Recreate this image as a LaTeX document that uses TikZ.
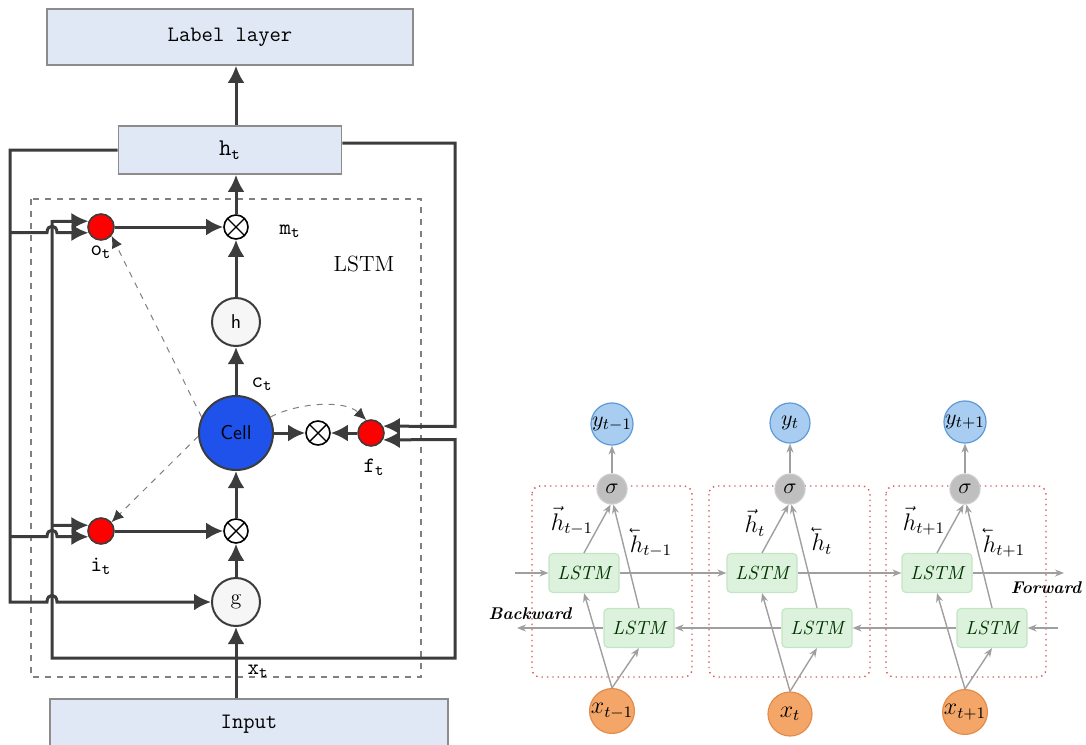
\documentclass[tikz,border=0pt]{standalone}
\usepackage{graphicx}
\usepackage{tikz}
\usetikzlibrary{arrows.meta, positioning}
\definecolor{layerfill}{HTML}{DFE8F4}
\definecolor{layerdraw}{HTML}{8C8C8C}
\definecolor{wiregray}{HTML}{3C3C3C}
\definecolor{cellblue}{HTML}{1F52EA}
\definecolor{yfill}{HTML}{A8CDF0}
\definecolor{ydraw}{HTML}{5D9AD6}
\definecolor{xfill}{HTML}{F3A668}
\definecolor{xdraw}{HTML}{E38C4C}
\definecolor{lstmfill}{HTML}{DDF2DD}
\definecolor{lstmdraw}{HTML}{C5E4C5}
\definecolor{framered}{HTML}{D25A5A}
\newcommand{\fwh}[1]{\vec{h}_{#1}}
\newcommand{\bwh}[1]{\reflectbox{$\vec{\reflectbox{$h$}}$}_{#1}}

\begin{document}
\begin{tikzpicture}[x=0.5pt, y=-0.5pt,
   layer/.style={draw=layerdraw, fill=layerfill, line width=0.8pt, inner sep=0pt, font=\fontsize{11}{13}\ttfamily},
   wire/.style={draw=wiregray, line width=1.5pt},
   arr/.style={wire, -{Latex[length=8.5pt,width=8.5pt]}},
   peep/.style={draw=gray, dashed, line width=0.5pt, -{Latex[length=6pt,width=5.5pt,color=wiregray]}},
   gate/.style={circle, draw=wiregray, fill=red, line width=0.8pt, minimum size=13pt, inner sep=0pt},
   func/.style={circle, draw=wiregray, fill=gray!7, line width=1pt, minimum size=24pt, inner sep=0pt},
   mult/.style={circle, draw=black, fill=white, line width=0.8pt, minimum size=12pt, inner sep=0pt,
      path picture={\draw[line width=0.7pt] (path picture bounding box.north west) -- (path picture bounding box.south east)
         (path picture bounding box.north east) -- (path picture bounding box.south west);}},
   tag/.style={font=\fontsize{11}{13}\selectfont},
   ycirc/.style={circle, fill=yfill, draw=ydraw, line width=0.6pt, minimum size=20pt, inner sep=0pt, font=\fontsize{11}{13}\selectfont},
   sig/.style={circle, fill=gray!50, draw=gray!40, line width=0.6pt, minimum size=15pt, inner sep=0pt, font=\fontsize{11}{13}\selectfont},
   xcirc/.style={circle, fill=xfill, draw=xdraw, line width=0.6pt, minimum size=22pt, inner sep=0pt, font=\fontsize{12}{14}\selectfont},
   lstm/.style={rounded corners=2pt, fill=lstmfill, draw=lstmdraw, line width=0.6pt, minimum width=35pt, minimum height=19.5pt, inner sep=0pt,
      text=black!80!green, font=\fontsize{9.5}{11}\itshape},
   frame/.style={draw=framered, dotted, rounded corners=4pt, line width=0.7pt},
   bi/.style={draw=gray!75, line width=0.7pt, -{Stealth[length=4.5pt,width=3.5pt]}},
   hlab/.style={font=\fontsize{12}{14}\selectfont, inner sep=1pt},
   dir/.style={font=\fontsize{8.5}{10}\bfseries\itshape}]
   \useasboundingbox (0,0) rectangle (1086,744);

   % LSTM unit
   \draw[gray, dashed, line width=0.6pt] (31,199) rectangle (421,677);
   \node (lab)[layer, minimum width=183pt, minimum height=28pt] at (230,37) {Label layer};
   \node (ht)[layer, minimum width=111.5pt, minimum height=24pt, font=\fontsize{12}{14}\ttfamily] at (230,150) {$\mathtt{h}_\mathtt{t}$};
   \node (inp)[layer, minimum width=199pt, minimum height=25pt, anchor=north] at (249,698) {Input};
   \node (ot)[gate] at (101,227) {};
   \node (mt)[mult] at (236,227) {};
   \node (hc)[func, font=\sffamily] at (236,322) {h};
   \node (cell)[circle, draw=wiregray, fill=cellblue, line width=1pt, minimum size=37pt, inner sep=0pt, font=\sffamily] at (236,433) {Cell};
   \node (mf)[mult] at (318,433) {};
   \node (ft)[gate] at (371,433) {};
   \node (mi)[mult] at (236,531) {};
   \node (it)[gate] at (101,531) {};
   \node (gc)[func, font=\fontsize{11}{13}\selectfont] at (236,602) {g};

   \node[tag] at (101,252) {$\mathtt{o}_\mathtt{t}$};
   \node[tag] at (290,231) {$\mathtt{m}_\mathtt{t}$};
   \node[tag] at (262,384) {$\mathtt{c}_\mathtt{t}$};
   \node[tag] at (374,467) {$\mathtt{f}_\mathtt{t}$};
   \node[tag] at (101,566) {$\mathtt{i}_\mathtt{t}$};
   \node[tag] at (258,671) {$\mathtt{x}_\mathtt{t}$};
   \node[tag] at (364,264) {LSTM};

   \draw[arr] (ht.north -| mt) -- (lab.south -| mt);
   \draw[arr] (mt.north) -- (mt.north |- ht.south);
   \draw[arr] (ot.east) -- (mt.west);
   \draw[arr] (hc.north) -- (mt.south);
   \draw[arr] (cell.north) -- (hc.south);
   \draw[arr] (cell.east) -- (mf.west);
   \draw[arr] (ft.west) -- (mf.east);
   \draw[arr] (mi.north) -- (cell.south);
   \draw[arr] (it.east) -- (mi.west);
   \draw[arr] (gc.north) -- (mi.south);
   \draw[arr] (inp.north -| gc) -- (gc.south);

   % recurrent h and input x wiring
   \draw[arr] (ht.west) -| (10,602) -- (47,602) .. controls (47,593) and (57,593) .. (57,602) -- (gc.west);
   \draw[arr] (10,232.5) -- (47,232.5) .. controls (47,224) and (57,224) .. (57,232.5) -- (ot.205);
   \draw[arr] (10,536.5) -- (47,536.5) .. controls (47,528) and (57,528) .. (57,536.5) -- (it.205);
   \draw[arr] (236,658) -- (52,658) -- (52,221.5) -- (ot.155);
   \draw[arr] (52,525.5) -- (it.155);
   \draw[arr] (236,658) -| (455,439.5) -- (ft.330);
   \draw[arr] ([yshift=3.5pt]ht.east) -| (455,426.5) -- (ft.30);

   % peepholes
   \draw[peep] (cell.155) -- (ot.-40);
   \draw[peep] (cell.185) -- (it.40);
   \draw[peep] (cell.25) .. controls (300,402) and (345,400) .. (ft.110);

   % bidirectional LSTM
   \draw[frame] (532,486) rectangle (692,677);
   \draw[frame] (709,486) rectangle (870,677);
   \draw[frame] (886,486) rectangle (1046,677);

   \node (y1)[ycirc] at (612,424) {$y_{t-1}$};
   \node (y2)[ycirc] at (790,423) {$y_{t}$};
   \node (y3)[ycirc] at (965,422) {$y_{t+1}$};
   \node (s1)[sig] at (612,489) {$\sigma$};
   \node (s2)[sig] at (790,489) {$\sigma$};
   \node (s3)[sig] at (965,489) {$\sigma$};
   \node (fw1)[lstm] at (584,573) {LSTM};
   \node (fw2)[lstm] at (762,573) {LSTM};
   \node (fw3)[lstm] at (937,573) {LSTM};
   \node (bw1)[lstm] at (639,628) {LSTM};
   \node (bw2)[lstm] at (817,628) {LSTM};
   \node (bw3)[lstm] at (992,628) {LSTM};
   \node (x1)[xcirc] at (612,711) {$x_{t-1}$};
   \node (x2)[xcirc] at (790,714) {$x_{t}$};
   \node (x3)[xcirc] at (965,712) {$x_{t+1}$};

   \coordinate (fin) at (515,573);
   \coordinate (fout) at (1064,573);
   \coordinate (bin) at (1058,628);
   \coordinate (bout) at (517,628);

   \draw[bi] (fin) -- (fw1.west);
   \draw[bi] (fw1.east) -- (fw2.west);
   \draw[bi] (fw2.east) -- (fw3.west);
   \draw[bi] (fw3.east) -- (fout);
   \draw[bi] (bin) -- (bw3.east);
   \draw[bi] (bw3.west) -- (bw2.east);
   \draw[bi] (bw2.west) -- (bw1.east);
   \draw[bi] (bw1.west) -- (bout);

   \draw[bi] (x1.north) -- (fw1.south);
   \draw[bi] (x1.north) -- (bw1.south);
   \draw[bi] (x2.north) -- (fw2.south);
   \draw[bi] (x2.north) -- (bw2.south);
   \draw[bi] (x3.north) -- (fw3.south);
   \draw[bi] (x3.north) -- (bw3.south);
   \draw[bi] (fw1.north) -- (s1.265);
   \draw[bi] (bw1.north) -- (s1.275);
   \draw[bi] (fw2.north) -- (s2.265);
   \draw[bi] (bw2.north) -- (s2.275);
   \draw[bi] (fw3.north) -- (s3.265);
   \draw[bi] (bw3.north) -- (s3.275);
   \draw[bi] (s1.north) -- (y1.south);
   \draw[bi] (s2.north) -- (y2.south);
   \draw[bi] (s3.north) -- (y3.south);

   \node[hlab] at (572,521) {$\fwh{t-1}$};
   \node[hlab] at (651,543) {$\bwh{t-1}$};
   \node[hlab] at (755,523) {$\fwh{t}$};
   \node[hlab] at (822,541) {$\bwh{t}$};
   \node[hlab] at (924,521) {$\fwh{t+1}$};
   \node[hlab] at (1004,543) {$\bwh{t+1}$};
   \node[dir] at (1046,588) {Forward};
   \node[dir] at (530,614) {Backward};
\end{tikzpicture}
\end{document}
